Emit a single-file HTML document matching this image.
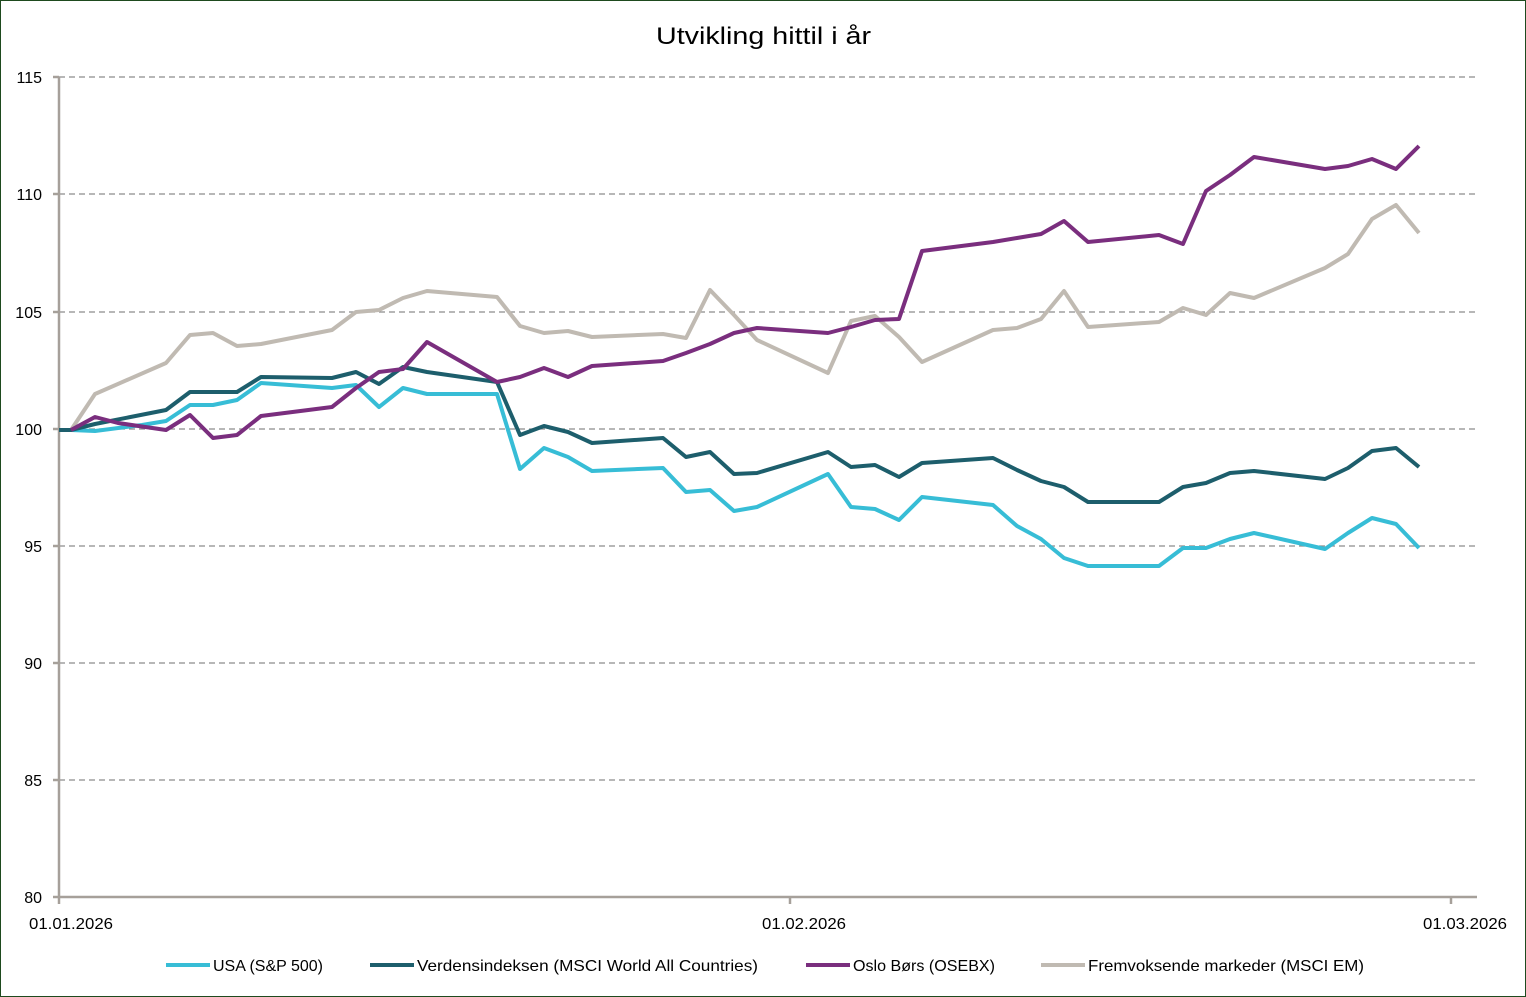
<!DOCTYPE html>
<html><head><meta charset="utf-8"><style>
html,body{margin:0;padding:0;background:#fff}
svg{display:block}
text{font-family:"Liberation Sans",sans-serif;fill:#000}
</style></head><body>
<svg width="1526" height="997" viewBox="0 0 1526 997">
<rect x="0.5" y="0.5" width="1525" height="996" fill="#fff" stroke="#1e4a1e"/>
<text x="656" y="44" font-size="24" textLength="215" lengthAdjust="spacingAndGlyphs">Utvikling hittil i år</text>
<g stroke="#8c8c8c" stroke-width="1.3" stroke-dasharray="6,4">
<line x1="59" y1="77" x2="1477" y2="77"/><line x1="59" y1="194" x2="1477" y2="194"/>
<line x1="59" y1="312" x2="1477" y2="312"/><line x1="59" y1="429" x2="1477" y2="429"/>
<line x1="59" y1="546" x2="1477" y2="546"/><line x1="59" y1="663" x2="1477" y2="663"/>
<line x1="59" y1="780" x2="1477" y2="780"/>
</g>
<g stroke="#a6a09a" stroke-width="2.5">
<line x1="59" y1="77" x2="59" y2="898"/><line x1="58" y1="897" x2="1477" y2="897"/>
<line x1="59" y1="897" x2="59" y2="904"/><line x1="790" y1="897" x2="790" y2="904"/><line x1="1451" y1="897" x2="1451" y2="904"/>
<line x1="53" y1="77" x2="59" y2="77"/><line x1="53" y1="194" x2="59" y2="194"/><line x1="53" y1="312" x2="59" y2="312"/><line x1="53" y1="429" x2="59" y2="429"/><line x1="53" y1="546" x2="59" y2="546"/><line x1="53" y1="663" x2="59" y2="663"/><line x1="53" y1="780" x2="59" y2="780"/><line x1="53" y1="897" x2="59" y2="897"/>
</g>
<g font-size="16" text-anchor="end">
<text x="42" y="83">115</text><text x="42" y="200">110</text><text x="42" y="318">105</text><text x="42" y="435">100</text><text x="42" y="552">95</text><text x="42" y="669">90</text><text x="42" y="786">85</text><text x="42" y="903">80</text>
</g>
<g font-size="16">
<text x="29" y="929" textLength="84" lengthAdjust="spacingAndGlyphs">01.01.2026</text>
<text x="762" y="929" textLength="84" lengthAdjust="spacingAndGlyphs">01.02.2026</text>
<text x="1423" y="929" textLength="84" lengthAdjust="spacingAndGlyphs">01.03.2026</text>
</g>
<g fill="none" stroke-width="4" stroke-linejoin="round">
<polyline stroke="#c0bab2" points="59,430 71,430 95,394 166,363 190,335 213,333 237,346 261,344 332,330 356,312 379,310 403,298 427,291 497,297 520,326 544,333 568,331 592,337 663,334 686,338 710,290 734,315 757,340 828,373 851,321 875,316 899,337 922,362 993,330 1017,328 1041,319 1064,291 1088,327 1159,322 1183,308 1206,315 1230,293 1254,298 1325,268 1348,254 1372,219 1396,205 1419,233"/>
<polyline stroke="#37bdd6" points="59,430 71,430 95,431 142,425 166,421 190,405 213,405 237,400 261,383 332,388 356,385 379,407 403,388 427,394 497,394 520,469 544,448 568,457 592,471 663,468 686,492 710,490 734,511 757,507 828,474 851,507 875,509 899,520 922,497 993,505 1017,526 1041,539 1064,558 1088,566 1159,566 1183,548 1206,548 1230,539 1254,533 1325,549 1348,533 1372,518 1396,524 1419,548"/>
<polyline stroke="#1d5e6c" points="59,430 71,430 95,424 166,410 190,392 237,392 261,377 332,378 356,372 379,384 403,367 427,372 497,382 520,435 544,426 568,432 592,443 663,438 686,457 710,452 734,474 757,473 828,452 851,467 875,465 899,477 922,463 993,458 1017,470 1041,481 1064,487 1088,502 1159,502 1183,487 1206,483 1230,473 1254,471 1325,479 1348,468 1372,451 1396,448 1419,467"/>
<polyline stroke="#7a2e7e" points="71,430 95,417 118,423 166,430 190,415 213,438 237,435 261,416 332,407 356,388 379,372 403,369 427,342 497,382 520,377 544,368 568,377 592,366 663,361 686,353 710,344 734,333 757,328 828,333 851,327 875,320 899,319 922,251 993,242 1017,238 1041,234 1064,221 1088,242 1159,235 1183,244 1206,191 1230,175 1254,157 1325,169 1348,166 1372,159 1396,169 1419,146"/>
</g>
<g stroke-width="4">
<line x1="166" y1="965" x2="210" y2="965" stroke="#37bdd6"/>
<line x1="370" y1="965" x2="414" y2="965" stroke="#1d5e6c"/>
<line x1="806" y1="965" x2="850" y2="965" stroke="#7a2e7e"/>
<line x1="1041" y1="965" x2="1085" y2="965" stroke="#c0bab2"/>
</g>
<g font-size="16">
<text x="213" y="971" textLength="110" lengthAdjust="spacingAndGlyphs">USA (S&amp;P 500)</text>
<text x="417" y="971" textLength="341" lengthAdjust="spacingAndGlyphs">Verdensindeksen (MSCI World All Countries)</text>
<text x="853" y="971" textLength="142" lengthAdjust="spacingAndGlyphs">Oslo Børs (OSEBX)</text>
<text x="1088" y="971" textLength="276" lengthAdjust="spacingAndGlyphs">Fremvoksende markeder (MSCI EM)</text>
</g>
</svg>
</body></html>
